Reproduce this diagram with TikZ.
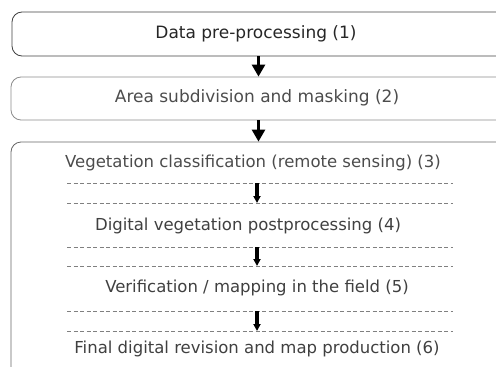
\documentclass[tikz,border=0pt]{standalone}
\usepackage{fontspec}
\setmainfont{DejaVu Sans}
\usetikzlibrary{arrows.meta}

\tikzset{
  frame/.style={draw=#1, rounded corners=10pt, line width=0.8pt, inner sep=0pt},
  steptext/.style={text=#1, font=\fontsize{17}{20}\selectfont, inner sep=0pt},
  sepline/.style={draw=black!50, line width=0.6pt, dash pattern=on 4pt off 2.5pt},
  flow/.style={line width=2.7pt, -{Triangle[width=13pt,length=12pt]}},
  subflow/.style={line width=3.5pt, -{Triangle[width=7pt,length=7pt]}},
}

\begin{document}
\begin{tikzpicture}[x=1pt,y=-1pt]
\useasboundingbox (0,0) rectangle (496,367);

% frames
\node[frame=black!75, minimum width=520pt, minimum height=44pt] (box1) at (272,34) {};
\node[frame=black!45, minimum width=522pt, minimum height=43pt] (box2) at (272,98.5) {};
\node[frame=black!60, minimum width=522pt, minimum height=300pt] (box3) at (272,292) {};

% step texts
\node[steptext=black!85] (t1) at (256,34) {Data pre-processing (1)};
\node[steptext=black!70] (t2) at (257,98) {Area subdivision and masking (2)};
\node[steptext=black!70, font=\fontsize{16.5}{20}\selectfont] (t3) at (253,163) {Vegetation classification (remote sensing) (3)};
\node[steptext=black!75, font=\fontsize{16.5}{20}\selectfont] (t4) at (248,226) {Digital vegetation postprocessing (4)};
\node[steptext=black!75, font=\fontsize{16.5}{20}\selectfont] (t5) at (257,288) {Verification / mapping in the field (5)};
\node[steptext=black!75, font=\fontsize{16.5}{20}\selectfont] (t6) at (257,349) {Final digital revision and map production (6)};

% main arrows
\coordinate (axis) at (258.5,0);
\draw[flow] (box1.south -| axis) -- (box2.north -| axis);
\draw[flow] (box2.south -| axis) -- (box3.north -| axis);

% separators and inner arrows
\foreach \i/\a/\b in {1/183/203, 2/247/266, 3/311/331} {
  \draw[sepline] (67,\a) -- (453,\a);
  \draw[sepline] (67,\b) -- (453,\b);
  \coordinate (up\i) at (257,\a);
  \coordinate (dn\i) at (257,\b);
  \draw[subflow] (up\i) -- (dn\i);
}
\end{tikzpicture}
\end{document}
